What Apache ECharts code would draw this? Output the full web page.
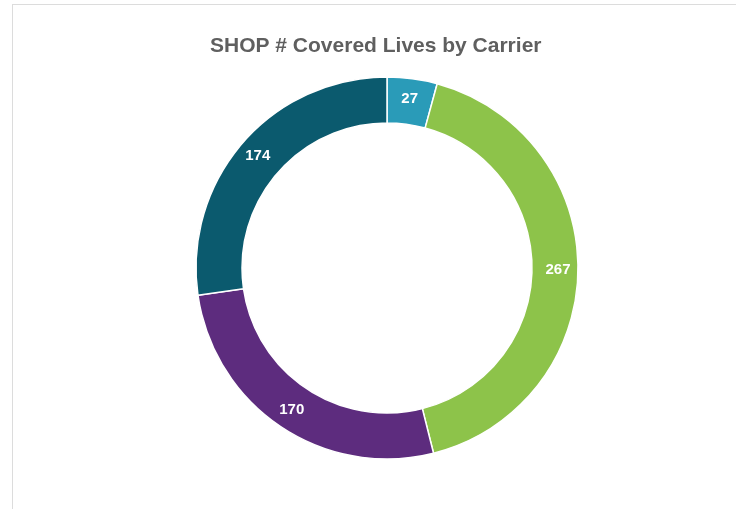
<!DOCTYPE html>
<html>
<head>
<meta charset="utf-8">
<script src="https://cdn.jsdelivr.net/npm/echarts@6/dist/echarts.min.js"></script>
<style>
  html, body { margin: 0; padding: 0; background: #fff; }
  #wrap {
    position: absolute; left: 12px; top: 4px;
    width: 740px; height: 520px;
    border: 1px solid #dcdcdc;
    box-sizing: border-box;
  }
  #chart { position: absolute; left: 0; top: 0; width: 736px; height: 509px; }
</style>
</head>
<body>
<div id="wrap"></div>
<div id="chart"></div>
<script>
// carriers in clockwise order from the top
const carriers = ['Carrier A', 'Carrier B', 'Carrier C', 'Carrier D'];
const lives = [27, 267, 170, 174];
const colors = ['#2a9bb8', '#8dc34a', '#5d2c7e', '#0b5a6e'];

const myChart = echarts.init(document.getElementById('chart'));

const option = {
  animation: false,
  title: {
    text: 'SHOP # Covered Lives by Carrier',
    left: 210,
    top: 36,
    padding: 0,
    textStyle: {
      color: '#5f5f5f',
      fontSize: 21,
      fontWeight: 'bold',
      fontFamily: 'Liberation Sans, Arial, sans-serif'
    }
  },
  series: [{
    name: 'Covered Lives',
    type: 'pie',
    center: [387, 268],
    radius: [145, 191],
    startAngle: 90,
    clockwise: true,
    itemStyle: {
      borderColor: '#fff',
      borderWidth: 1.5
    },
    label: {
      show: true,
      position: 'inside',
      color: '#fff',
      fontSize: 15,
      fontWeight: 'bold',
      fontFamily: 'Liberation Sans, Arial, sans-serif',
      formatter: '{c}'
    },
    labelLine: { show: false },
    emphasis: { disabled: true },
    data: carriers.map((name, i) => ({
      name: name,
      value: lives[i],
      itemStyle: { color: colors[i] }
    }))
  }]
};

myChart.setOption(option);
</script>
</body>
</html>
